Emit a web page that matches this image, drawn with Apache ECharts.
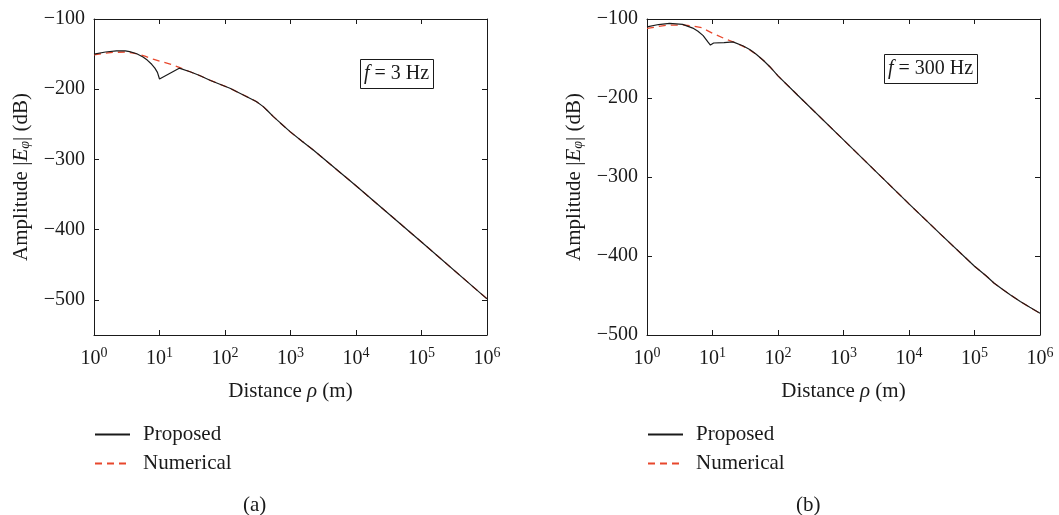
<!DOCTYPE html>
<html>
<head>
<meta charset="utf-8">
<script src="https://cdn.jsdelivr.net/npm/echarts@6/dist/echarts.min.js"></script>
<style>
  html, body { margin: 0; padding: 0; background: #fff; }
  #chart { width: 1059px; height: 515px; }
</style>
</head>
<body>
<div id="chart"></div>
<script>
// tick values
const decades = [1, 10, 100, 1000, 10000, 100000, 1000000];
const yTicksA = [-500, -400, -300, -200, -100];
const yTicksB = [-500, -400, -300, -200, -100];

// (a) f = 3 Hz
const distPropA = [1, 1.5, 2.2, 3, 3.5, 4.5, 5.6, 6.5, 7.6, 8.5, 9.3, 10, 20, 30, 41, 60, 119, 215, 300, 384, 450, 548, 700, 985, 1500, 2230, 10000, 100000, 1000000];
const ampPropA = [-150, -147, -145.3, -145.5, -146.5, -149.5, -154, -158.5, -164.5, -170, -176, -185.5, -170, -175.5, -180.5, -187.5, -198.7, -210.6, -217.5, -224.8, -231, -239, -248, -260.4, -274, -286.5, -337.5, -417.5, -498.5];
const distNumA = [1, 1.5, 2, 3, 4, 5, 6, 8, 10, 15, 20, 30, 41, 60, 119, 215, 300, 384, 450, 548, 700, 985, 1500, 2230, 10000, 100000, 1000000];
const ampNumA = [-151, -148.5, -147.5, -147, -148.5, -150.5, -153, -157, -160, -164.5, -169, -175.5, -180.5, -187.5, -198.7, -210.6, -217.5, -224.8, -231, -239, -248, -260.4, -274, -286.5, -337.5, -417.5, -498.5];

// (b) f = 300 Hz
const distPropB = [1, 1.5, 2.2, 3.5, 5, 6, 7.2, 8.5, 9.3, 10.4, 15, 20.5, 29, 37, 46.5, 60, 75, 100, 200, 1000, 10000, 30000, 100000, 150000, 200000, 270000, 350000, 500000, 700000, 1000000];
const ampPropB = [-110, -107, -105.5, -106.8, -111.5, -115.5, -121, -129, -133, -130.4, -129.8, -129, -133.8, -138.5, -144.7, -152.5, -160.4, -172, -196.5, -253, -334, -372, -413, -425, -434.5, -442.5, -449, -457.5, -465, -472.5];
const distNumB = [1, 1.5, 2, 3.5, 5, 6.8, 8.5, 10, 15, 20, 30, 40, 46.5, 60, 75, 100, 200, 1000, 10000, 30000, 100000, 150000, 200000, 270000, 350000, 500000, 700000, 1000000];
const ampNumB = [-112, -109.5, -108, -107.5, -109, -111, -115, -118, -124.5, -128.5, -135, -141, -144.7, -152.5, -160.4, -172, -196.5, -253, -334, -372, -413, -425, -434.5, -442.5, -449, -457.5, -465, -472.5];

const serif = '"Liberation Serif", "DejaVu Serif", serif';
const black = '#1a1a1a';
const red = '#e8472c';

function pairs(xs, ys) {
  return xs.map((x, i) => [x, ys[i]]);
}

function minus(v) {
  return String(v).replace('-', '\u2212');
}

function xAxes(gridIndex) {
  return [
    {
      type: 'log', logBase: 10, gridIndex: gridIndex, min: 1, max: 1000000,
      name: 'Distance {i|\u03c1} (m)', nameLocation: 'middle', nameGap: 46,
      nameTextStyle: {
        fontFamily: serif, fontSize: 21, color: black,
        rich: { i: { fontFamily: serif, fontSize: 21, fontStyle: 'italic', color: black } }
      },
      axisLine: { lineStyle: { color: black, width: 1 } },
      axisTick: { inside: true, length: 5, customValues: decades, lineStyle: { color: black } },
      axisLabel: {
        customValues: decades, margin: 11, color: black, fontFamily: serif, fontSize: 20,
        formatter: v => '{b|10}{s|' + Math.round(Math.log10(v)) + '}',
        rich: {
          b: { fontFamily: serif, fontSize: 20, color: black },
          s: { fontFamily: serif, fontSize: 14, color: black, padding: [0, 0, 11, 0] }
        }
      },
      splitLine: { show: false }
    },
    {
      type: 'log', logBase: 10, gridIndex: gridIndex, min: 1, max: 1000000, position: 'top',
      axisLine: { lineStyle: { color: black, width: 1 } },
      axisTick: { inside: true, length: 5, customValues: decades, lineStyle: { color: black } },
      axisLabel: { show: false },
      splitLine: { show: false }
    }
  ];
}

function yAxes(gridIndex, min, ticks) {
  return [
    {
      type: 'value', gridIndex: gridIndex, min: min, max: -100,
      name: 'Amplitude |{i|E}{s|\u03c6}| (dB)', nameLocation: 'middle', nameGap: 62,
      nameTextStyle: {
        fontFamily: serif, fontSize: 21, color: black,
        rich: {
          i: { fontFamily: serif, fontSize: 21, fontStyle: 'italic', color: black },
          s: { fontFamily: serif, fontSize: 14, fontStyle: 'italic', color: black, padding: [7, 0, 0, 0] }
        }
      },
      axisLine: { show: true, lineStyle: { color: black, width: 1 } },
      axisTick: { show: true, inside: true, length: 5, customValues: ticks, lineStyle: { color: black } },
      axisLabel: { customValues: ticks, margin: 9, color: black, fontFamily: serif, fontSize: 20, formatter: minus },
      splitLine: { show: false }
    },
    {
      type: 'value', gridIndex: gridIndex, min: min, max: -100, position: 'right',
      axisLine: { show: true, lineStyle: { color: black, width: 1 } },
      axisTick: { show: true, inside: true, length: 5, customValues: ticks, lineStyle: { color: black } },
      axisLabel: { show: false },
      splitLine: { show: false }
    }
  ];
}

function line(name, xIdx, yIdx, data, dashed) {
  return {
    name: name, type: 'line', xAxisIndex: xIdx, yAxisIndex: yIdx,
    data: data, symbol: 'none', z: dashed ? 2 : 3,
    lineStyle: dashed ? { color: red, width: 1.3, type: [7, 5] } : { color: black, width: 1.2 },
    itemStyle: { color: dashed ? red : black }
  };
}

function legend(left) {
  return {
    left: left, top: 424, orient: 'vertical', padding: 0,
    itemWidth: 35, itemHeight: 14, itemGap: 8,
    data: ['Proposed', 'Numerical'],
    selectedMode: false,
    itemStyle: { opacity: 0 },
    textStyle: { fontFamily: serif, fontSize: 21, color: black, padding: [0, 0, 0, 8] }
  };
}

function panelTitle(left, top, freq) {
  return {
    left: left, top: top, text: '{i|f} = ' + freq + ' Hz',
    borderColor: black, borderWidth: 1, padding: [5, 5, 5, 4],
    textStyle: {
      fontFamily: serif, fontSize: 20, fontWeight: 'normal', color: black,
      rich: { i: { fontFamily: serif, fontSize: 20, fontStyle: 'italic', color: black } }
    }
  };
}

const chart = echarts.init(document.getElementById('chart'));
chart.setOption({
  animation: false,
  backgroundColor: '#fff',
  grid: [
    { left: 94, top: 19, width: 393, height: 316 },
    { left: 647, top: 19, width: 393, height: 316 }
  ],
  title: [
    panelTitle(360, 59, '3'),
    panelTitle(884, 54, '300'),
    { left: 243, top: 495, padding: 0, text: '(a)', textStyle: { fontFamily: serif, fontSize: 21, fontWeight: 'normal', color: black } },
    { left: 796, top: 495, padding: 0, text: '(b)', textStyle: { fontFamily: serif, fontSize: 21, fontWeight: 'normal', color: black } }
  ],
  legend: [legend(94), legend(647)],
  xAxis: xAxes(0).concat(xAxes(1)),
  yAxis: yAxes(0, -550, yTicksA).concat(yAxes(1, -500, yTicksB)),
  series: [
    line('Numerical', 0, 0, pairs(distNumA, ampNumA), true),
    line('Proposed', 0, 0, pairs(distPropA, ampPropA), false),
    line('Numerical', 2, 2, pairs(distNumB, ampNumB), true),
    line('Proposed', 2, 2, pairs(distPropB, ampPropB), false)
  ]
});
</script>
</body>
</html>
